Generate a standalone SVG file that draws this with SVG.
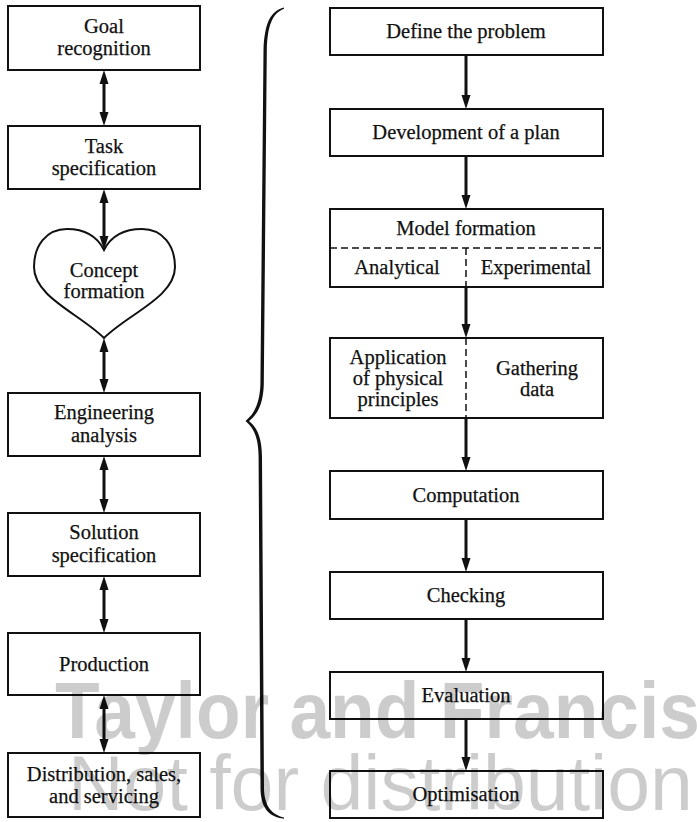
<svg xmlns="http://www.w3.org/2000/svg" width="697" height="822" viewBox="0 0 697 822">
<style>
.box{fill:#fff;stroke:#111;stroke-width:2}
.t{font-family:"Liberation Serif","Times New Roman",serif;font-size:20.5px;fill:#111;text-anchor:middle;stroke:#111;stroke-width:0.25}
.ln{stroke:#111;stroke-width:3;fill:none}
.hd{fill:#111;stroke:none}
.dash{stroke:#111;stroke-width:1.5;stroke-dasharray:7 4;fill:none}
.wm{font-family:"Liberation Sans",Arial,sans-serif;fill:#000;fill-opacity:0.2}
</style>
<rect width="697" height="822" fill="#fff"/>

<g id="goal"><rect class="box" x="8" y="6" width="192" height="64"/><text class="t" x="104" y="33">Goal</text><text class="t" x="104" y="55">recognition</text></g>
<g id="task"><rect class="box" x="8" y="126" width="192" height="63"/><text class="t" x="104" y="153">Task</text><text class="t" x="104" y="175">specification</text></g>
<g id="concept"><path class="box" stroke-width="1.6" d="M104,250 C96,234 82,229 67,229 C46,229 34,246 34,267 C34,297 80,314 104,338 C128,314 175,297 175,267 C175,246 163,229 142,229 C127,229 112,234 104,250 Z"/><text class="t" x="104" y="277">Concept</text><text class="t" x="104" y="298">formation</text></g>
<g id="engineering"><rect class="box" x="8" y="393" width="192" height="63"/><text class="t" x="104" y="419">Engineering</text><text class="t" x="104" y="442">analysis</text></g>
<g id="solution"><rect class="box" x="8" y="513" width="192" height="63"/><text class="t" x="104" y="539">Solution</text><text class="t" x="104" y="562">specification</text></g>
<g id="production"><rect class="box" x="8" y="633" width="192" height="62"/><text class="t" x="104" y="671">Production</text></g>
<g id="distribution"><rect class="box" x="8" y="753" width="192" height="64"/><text class="t" x="104" y="781">Distribution, sales,</text><text class="t" x="104" y="803">and servicing</text></g>

<g id="brace">
<path fill="#111" d="M284,7.5 C270,11 264.5,24 263.5,50 L260.4,385 C259.5,404 254,414 245.5,421 C254,428 258.4,438 258.6,457 L260.5,790 C261.5,809 269,816.5 284,818.8 L284,817.6 C272,814.5 265,807 264,790 L262,457 C261.8,437 256.5,427 249,421 C257,415 263,405 263.8,385 L266.8,50 C267.5,26 272,13.5 284,8.7 Z"/>
</g>

<g id="define"><rect class="box" x="330" y="8" width="273" height="47"/><text class="t" x="466" y="38">Define the problem</text></g>
<g id="plan"><rect class="box" x="330" y="109" width="273" height="47"/><text class="t" x="466" y="139">Development of a plan</text></g>
<g id="model"><rect class="box" x="330" y="209" width="273" height="78"/><line class="dash" x1="330" y1="248" x2="603" y2="248"/><line class="dash" x1="466" y1="248" x2="466" y2="287"/><text class="t" x="466" y="235">Model formation</text><text class="t" x="397" y="274">Analytical</text><text class="t" x="536" y="274">Experimental</text></g>
<g id="application"><rect class="box" x="330" y="338" width="273" height="80"/><line class="dash" x1="466" y1="338" x2="466" y2="418"/><text class="t" x="398" y="364">Application</text><text class="t" x="398" y="385">of physical</text><text class="t" x="398" y="406">principles</text><text class="t" x="537" y="375">Gathering</text><text class="t" x="537" y="396">data</text></g>
<g id="computation"><rect class="box" x="330" y="471" width="273" height="48"/><text class="t" x="466" y="502">Computation</text></g>
<g id="checking"><rect class="box" x="330" y="572" width="273" height="47"/><text class="t" x="466" y="602">Checking</text></g>
<g id="evaluation"><rect class="box" x="330" y="672" width="273" height="47"/><text class="t" x="466" y="702">Evaluation</text></g>
<g id="optimisation"><rect class="box" x="330" y="771" width="273" height="47"/><text class="t" x="466" y="801">Optimisation</text></g>

<g id="connectors">
<path class="ln" d="M104,82 V114 M104,201 V238 M104,350 V381 M104,468 V501 M104,588 V621 M104,707 V741"/>
<path class="hd" d="M104,70 l-4.5,14 h9 Z M104,126 l-4.5,-14 h9 Z M104,189 l-4.5,14 h9 Z M104,250 l-4.5,-14 h9 Z M104,338 l-4.5,14 h9 Z M104,393 l-4.5,-14 h9 Z M104,456 l-4.5,14 h9 Z M104,513 l-4.5,-14 h9 Z M104,576 l-4.5,14 h9 Z M104,633 l-4.5,-14 h9 Z M104,695 l-4.5,14 h9 Z M104,753 l-4.5,-14 h9 Z"/>
<path class="ln" d="M466,55 V97 M466,156 V197 M466,287 V326 M466,418 V459 M466,519 V560 M466,619 V660 M466,719 V759"/>
<path class="hd" d="M466,109 l-4.5,-14 h9 Z M466,209 l-4.5,-14 h9 Z M466,338 l-4.5,-14 h9 Z M466,471 l-4.5,-14 h9 Z M466,572 l-4.5,-14 h9 Z M466,672 l-4.5,-14 h9 Z M466,771 l-4.5,-14 h9 Z"/>
</g>

<g id="watermark">
<text class="wm" x="55" y="738" font-size="80" font-weight="bold" textLength="645" lengthAdjust="spacingAndGlyphs">Taylor and Francis</text>
<text class="wm" x="68" y="810" font-size="77">Not for distribution</text>
</g>
</svg>
